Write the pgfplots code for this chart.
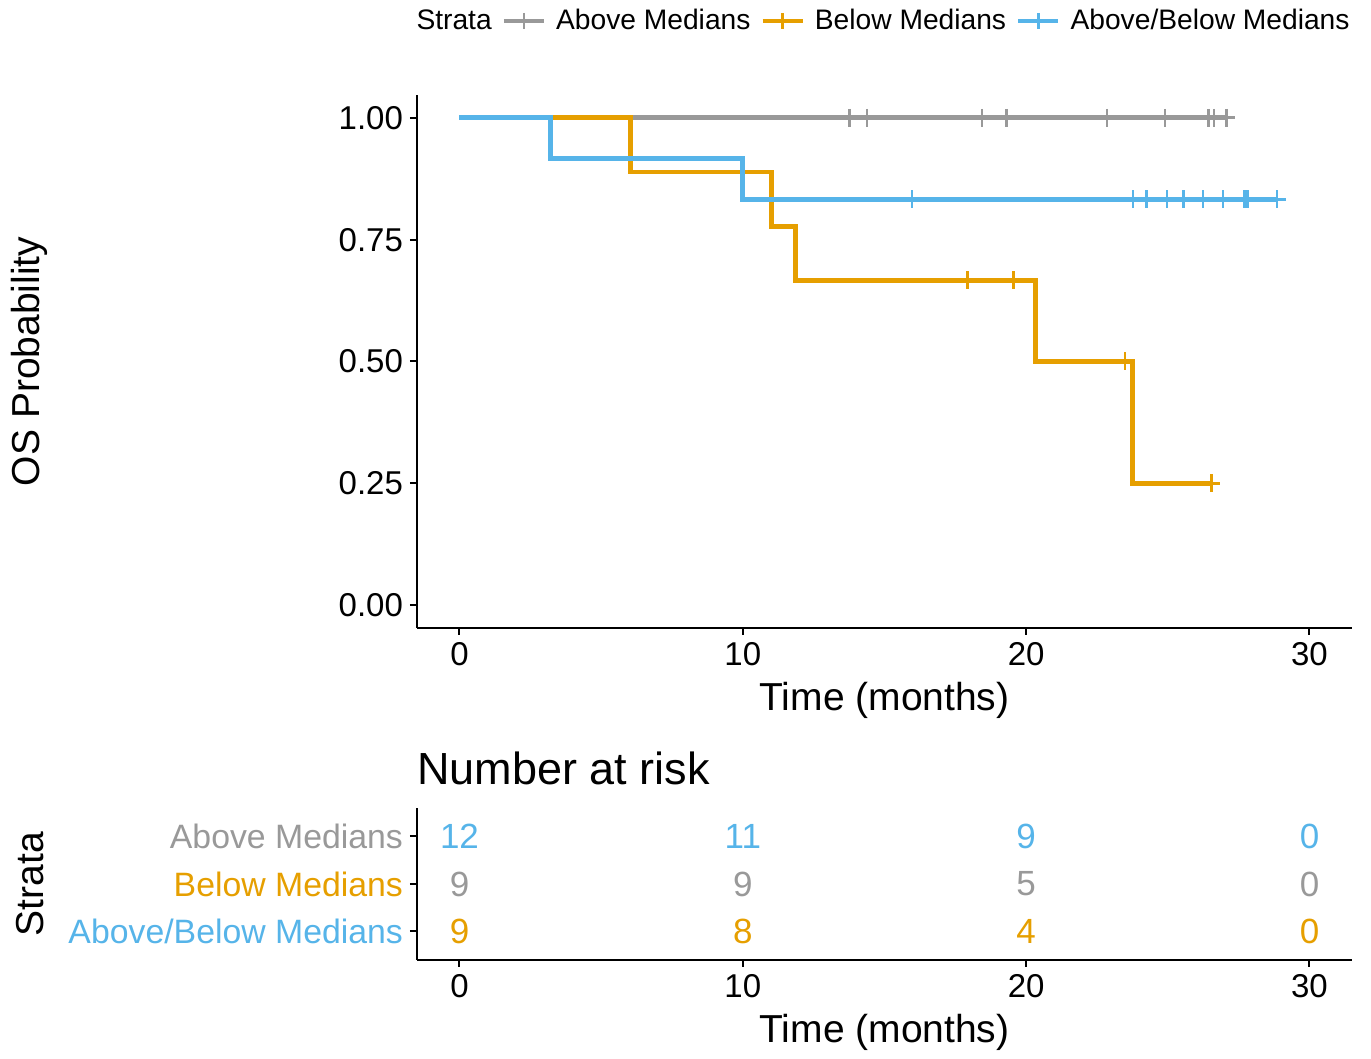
\documentclass[border=0pt]{standalone}
\usepackage{pgfplots}
\pgfplotsset{compat=1.18}
\usepackage{fontspec}
\setmainfont{Liberation Sans}
\definecolor{cgray}{HTML}{999999}
\definecolor{corange}{HTML}{E69F00}
\definecolor{cblue}{HTML}{56B4E9}

\pgfplotsset{
 kmbase/.style={
  scale only axis, width=467.5pt,
  xmin=-1.5, xmax=31.5,
  axis x line*=bottom, axis y line*=left,
  axis line style={line width=1pt, black},
  every tick/.style={line width=1pt, black},
  tick align=outside, major tick length=3.5pt,
  xtick={0,10,20,30},
  ticklabel style={font=\fontsize{16.5}{19}\selectfont},
  /pgf/number format/assume math mode=true,
  xlabel={Time (months)},
  label style={font=\fontsize{19.5}{23}\selectfont},
  xlabel style={at={(axis description cs:0.5,0)}, anchor=center, yshift=-36pt},
  ylabel style={at={(axis description cs:-0.414,0.5)}, anchor=center, rotate=0},
 },
 km/.style={const plot, line width=2.4pt, line join=miter, mark=none},
 cens/.style={only marks, mark=+, mark size=4.5pt, mark options={line width=1.4pt}},
}

\begin{document}
\begin{tikzpicture}
\useasboundingbox (-208.5pt,-215.5pt) rectangle (477pt,314pt);
\begin{axis}[kmbase,
  height=266.5pt,
  ymin=-0.047, ymax=1.047,
  ytick={0,0.25,0.5,0.75,1},
  yticklabels={0.00,0.25,0.50,0.75,1.00},
  ylabel={OS Probability},
  legend style={at={(axis description cs:1,1)}, anchor=east, yshift=37pt, xshift=4pt,
    draw=none, fill=none, legend columns=-1,
    font=\fontsize{14.1}{16}\selectfont,
    /tikz/every even column/.append style={column sep=3pt},
    /tikz/every odd column/.append style={column sep=3pt}},
  legend image code/.code={\draw[mark repeat=2,mark phase=2,#1] plot coordinates {(0pt,0pt) (10pt,0pt) (20pt,0pt)};},
]
\addlegendimage{empty legend}\addlegendentry{Strata}
\addlegendimage{cgray, line width=2.2pt, mark=+, mark size=4pt, mark options={line width=1.3pt}}\addlegendentry{Above Medians}
\addlegendimage{corange, line width=2.2pt, mark=+, mark size=4pt, mark options={line width=1.3pt}}\addlegendentry{Below Medians}
\addlegendimage{cblue, line width=2.2pt, mark=+, mark size=4pt, mark options={line width=1.3pt}}\addlegendentry{Above/Below Medians}

% Above Medians (gray)
\addplot[km, cgray, forget plot] coordinates {(0,1) (27.07,1)};
\addplot[cens, cgray, forget plot] coordinates {(13.76,1) (14.38,1) (18.44,1) (19.32,1) (22.85,1) (24.90,1) (26.43,1) (26.63,1) (27.07,1)};
% Below Medians (orange)
\addplot[km, corange, forget plot] coordinates {(0,1) (6.03,0.8889) (11.0,0.7778) (11.85,0.6667) (20.32,0.5) (23.74,0.25) (26.53,0.25)};
\addplot[cens, corange, forget plot] coordinates {(17.92,0.6667) (19.54,0.6667) (23.49,0.5) (26.53,0.25)};
% Above/Below Medians (blue)
\addplot[km, cblue, forget plot] coordinates {(0,1) (3.21,0.9167) (10.0,0.8333) (28.85,0.8333)};
\addplot[cens, cblue, forget plot] coordinates {(15.97,0.8333) (23.77,0.8333) (24.24,0.8333) (24.97,0.8333) (25.54,0.8333) (26.24,0.8333) (26.95,0.8333) (27.70,0.8333) (27.80,0.8333) (28.85,0.8333)};
\end{axis}

\begin{axis}[kmbase,
  at={(0,-166pt)},
  height=76pt,
  ymin=0.4, ymax=3.6,
  ytick={1,2,3},
  yticklabels={\textcolor{cblue}{Above/Below Medians},\textcolor{corange}{Below Medians},\textcolor{cgray}{Above Medians}},
  yticklabel style={font=\fontsize{16.9}{19}\selectfont},
  ylabel={Strata},
  title={Number at risk},
  title style={at={(axis description cs:0,1)}, anchor=base west, inner sep=0pt, yshift=5.5pt, font=\fontsize{22.5}{27}\selectfont},
  nodes near coords, point meta=explicit symbolic,
  nodes near coords align={center},
  every node near coord/.append style={anchor=center, font=\fontsize{17.5}{20}\selectfont, inner sep=0pt},
]
\addplot[only marks, mark=none, every node near coord/.append style={text=cblue}] table[meta=n] {
x y n
0 3 12
10 3 11
20 3 9
30 3 0
};
\addplot[only marks, mark=none, every node near coord/.append style={text=cgray}] table[meta=n] {
x y n
0 2 9
10 2 9
20 2 5
30 2 0
};
\addplot[only marks, mark=none, every node near coord/.append style={text=corange}] table[meta=n] {
x y n
0 1 9
10 1 8
20 1 4
30 1 0
};
\end{axis}
\end{tikzpicture}
\end{document}
